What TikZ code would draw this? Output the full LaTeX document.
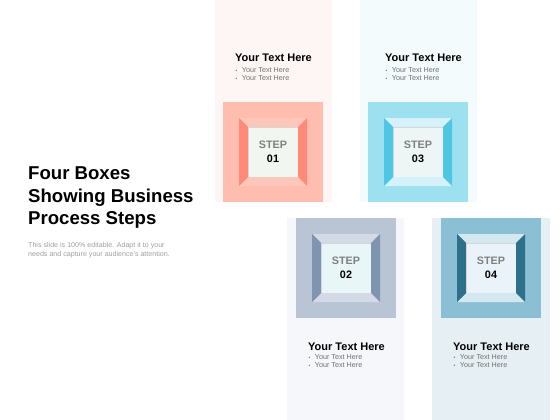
\documentclass[tikz,border=0pt]{standalone}
\usepackage{fontspec}
\setmainfont{Liberation Sans}
\definecolor{pinkbg}{HTML}{FEF6F4}
\definecolor{pinksq}{HTML}{FFBDB0}
\definecolor{pinkside}{HTML}{FF8A78}
\definecolor{pinktop}{HTML}{FFC6BA}
\definecolor{pinkface}{HTML}{F2F6F1}
\definecolor{cyanbg}{HTML}{F4FBFD}
\definecolor{cyansq}{HTML}{9DE1F0}
\definecolor{cyanside}{HTML}{4FC6E4}
\definecolor{cyantop}{HTML}{D5F2FA}
\definecolor{cyanface}{HTML}{EDF6F5}
\definecolor{slatebg}{HTML}{F5F7FA}
\definecolor{slatesq}{HTML}{B9C5D5}
\definecolor{slateside}{HTML}{7E94AF}
\definecolor{slatetop}{HTML}{D3DAE5}
\definecolor{slateface}{HTML}{E9F6F8}
\definecolor{tealbg}{HTML}{E6F0F4}
\definecolor{tealsq}{HTML}{8BC0D4}
\definecolor{tealside}{HTML}{2E6F89}
\definecolor{tealtop}{HTML}{D4E8EF}
\definecolor{tealface}{HTML}{EAF3FA}
\definecolor{steptxt}{HTML}{808080}
\definecolor{subtxt}{HTML}{707070}
\definecolor{desctxt}{HTML}{A0A0A0}
\begin{document}
\begin{tikzpicture}[x=1pt,y=-1pt,
    square/.style={inner sep=0pt,outer sep=0pt,minimum size=100pt},
    bevel/.style={inner sep=0pt,outer sep=0pt,minimum size=68pt},
    face/.style={inner sep=0pt,outer sep=0pt,minimum size=50pt},
    shade/.style={draw=black!16,line width=1.4pt},
    steplbl/.style={align=center,font=\fontsize{10.8}{14}\selectfont\bfseries},
    head/.style={anchor=base west,inner sep=0pt,font=\fontsize{11}{12}\selectfont\bfseries},
    sub/.style={anchor=base west,inner sep=0pt,text=subtxt,font=\fontsize{7.2}{8}\selectfont}]
    \fill[white] (0,0) rectangle (560,420);
    \useasboundingbox (0,0) rectangle (560,420);
    % strips
    \fill[pinkbg] (215,0) rectangle (332,202);
    \fill[cyanbg] (360,0) rectangle (477,202);
    \fill[slatebg] (287,218) rectangle (404,420);
    \fill[tealbg] (432,218) rectangle (550,420);
    % step 01
    \node[square,fill=pinksq] (sq1) at (273,152) {};
    \node[bevel] (bev1) at (sq1) {};
    \node[face,fill=pinkface] (face1) at (sq1) {};
    \fill[pinktop] (bev1.north west) -- (bev1.north east) -- (face1.north east) -- (face1.north west) -- cycle;
    \fill[pinktop] (bev1.south west) -- (bev1.south east) -- (face1.south east) -- (face1.south west) -- cycle;
    \fill[pinkside] (bev1.north west) -- (bev1.south west) -- (face1.south west) -- (face1.north west) -- cycle;
    \fill[pinkside] (bev1.north east) -- (bev1.south east) -- (face1.south east) -- (face1.north east) -- cycle;
    \draw[shade] ([xshift=0.7pt]face1.south west) |- ([yshift=-0.7pt]face1.north east);
    \node[steplbl] (lbl1) at (face1) {\textcolor{steptxt}{STEP}\\01};
    % step 03
    \node[square,fill=cyansq] (sq3) at (418,152) {};
    \node[bevel] (bev3) at (sq3) {};
    \node[face,fill=cyanface] (face3) at (sq3) {};
    \fill[cyantop] (bev3.north west) -- (bev3.north east) -- (face3.north east) -- (face3.north west) -- cycle;
    \fill[cyantop] (bev3.south west) -- (bev3.south east) -- (face3.south east) -- (face3.south west) -- cycle;
    \fill[cyanside] (bev3.north west) -- (bev3.south west) -- (face3.south west) -- (face3.north west) -- cycle;
    \fill[cyanside] (bev3.north east) -- (bev3.south east) -- (face3.south east) -- (face3.north east) -- cycle;
    \draw[shade] ([xshift=0.7pt]face3.south west) |- ([yshift=-0.7pt]face3.north east);
    \node[steplbl] (lbl3) at (face3) {\textcolor{steptxt}{STEP}\\03};
    % step 02
    \node[square,fill=slatesq] (sq2) at (346,268) {};
    \node[bevel] (bev2) at (sq2) {};
    \node[face,fill=slateface] (face2) at (sq2) {};
    \fill[slatetop] (bev2.north west) -- (bev2.north east) -- (face2.north east) -- (face2.north west) -- cycle;
    \fill[slatetop] (bev2.south west) -- (bev2.south east) -- (face2.south east) -- (face2.south west) -- cycle;
    \fill[slateside] (bev2.north west) -- (bev2.south west) -- (face2.south west) -- (face2.north west) -- cycle;
    \fill[slateside] (bev2.north east) -- (bev2.south east) -- (face2.south east) -- (face2.north east) -- cycle;
    \draw[shade] ([xshift=0.7pt]face2.south west) |- ([yshift=-0.7pt]face2.north east);
    \node[steplbl] (lbl2) at (face2) {\textcolor{steptxt}{STEP}\\02};
    % step 04
    \node[square,fill=tealsq] (sq4) at (491,268) {};
    \node[bevel] (bev4) at (sq4) {};
    \node[face,fill=tealface] (face4) at (sq4) {};
    \fill[tealtop] (bev4.north west) -- (bev4.north east) -- (face4.north east) -- (face4.north west) -- cycle;
    \fill[tealtop] (bev4.south west) -- (bev4.south east) -- (face4.south east) -- (face4.south west) -- cycle;
    \fill[tealside] (bev4.north west) -- (bev4.south west) -- (face4.south west) -- (face4.north west) -- cycle;
    \fill[tealside] (bev4.north east) -- (bev4.south east) -- (face4.south east) -- (face4.north east) -- cycle;
    \draw[shade] ([xshift=0.7pt]face4.south west) |- ([yshift=-0.7pt]face4.north east);
    \node[steplbl] (lbl4) at (face4) {\textcolor{steptxt}{STEP}\\04};
    % texts
    \node[head] (head1) at (235,62) {Your Text Here};
    \node[sub] (sub1a) at (235.5,73) {{\tiny\textbullet}\hspace{4.5pt}Your Text Here};
    \node[sub] (sub1b) at (235.5,81) {{\tiny\textbullet}\hspace{4.5pt}Your Text Here};
    \node[head] (head3) at (385,62) {Your Text Here};
    \node[sub] (sub3a) at (385.5,73) {{\tiny\textbullet}\hspace{4.5pt}Your Text Here};
    \node[sub] (sub3b) at (385.5,81) {{\tiny\textbullet}\hspace{4.5pt}Your Text Here};
    \node[head] (head2) at (308,350) {Your Text Here};
    \node[sub] (sub2a) at (308.5,359) {{\tiny\textbullet}\hspace{4.5pt}Your Text Here};
    \node[sub] (sub2b) at (308.5,367) {{\tiny\textbullet}\hspace{4.5pt}Your Text Here};
    \node[head] (head4) at (453,350) {Your Text Here};
    \node[sub] (sub4a) at (453.5,359) {{\tiny\textbullet}\hspace{4.5pt}Your Text Here};
    \node[sub] (sub4b) at (453.5,367) {{\tiny\textbullet}\hspace{4.5pt}Your Text Here};
    % title
    \node[anchor=north west,inner sep=0pt,align=left,font=\fontsize{18.6}{22.5}\selectfont\bfseries] (title) at (28,167) {Four Boxes\\Showing Business\\Process Steps};
    \node[anchor=north west,inner sep=0pt,align=left,text=desctxt,font=\fontsize{7.1}{9}\selectfont] (desc) at (28,242) {This slide is 100\% editable. Adapt it to your\\needs and capture your audience's attention.};
  \end{tikzpicture}
\end{document}
